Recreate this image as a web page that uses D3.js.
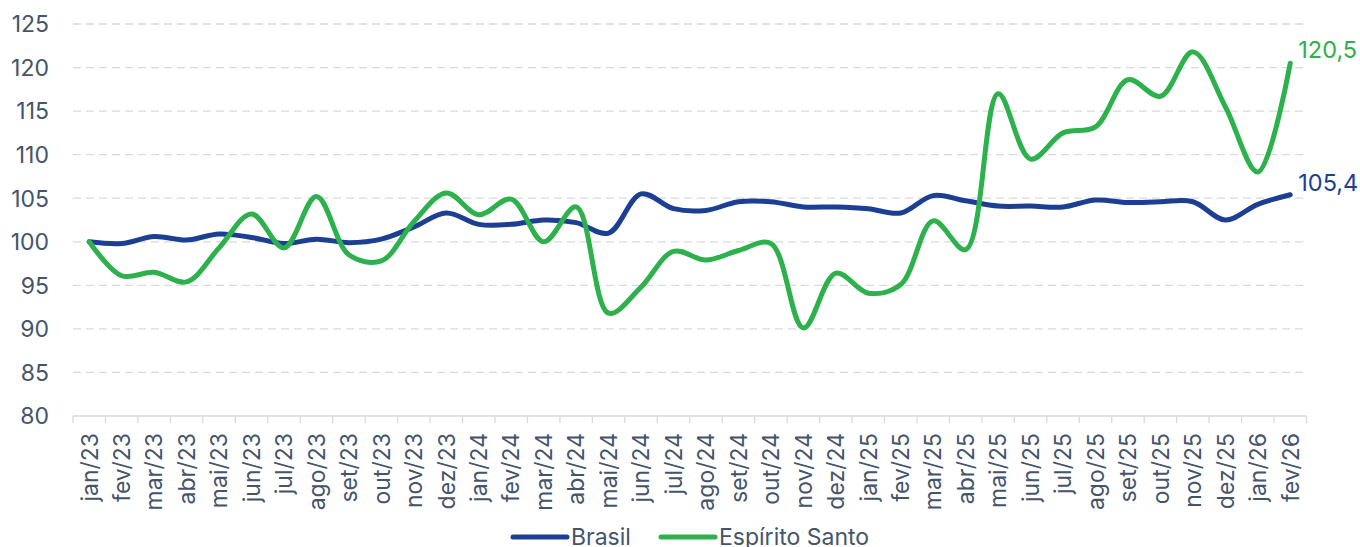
<!DOCTYPE html>
<html><head><meta charset="utf-8">
<script src="https://cdn.jsdelivr.net/npm/d3@7"></script>
<style>html,body{margin:0;padding:0;background:#fff}svg{display:block}</style>
</head><body>
<svg id="chart" width="1360" height="547"></svg>
<script>
const categories = ["jan/23","fev/23","mar/23","abr/23","mai/23","jun/23","jul/23","ago/23","set/23","out/23","nov/23","dez/23",
"jan/24","fev/24","mar/24","abr/24","mai/24","jun/24","jul/24","ago/24","set/24","out/24","nov/24","dez/24",
"jan/25","fev/25","mar/25","abr/25","mai/25","jun/25","jul/25","ago/25","set/25","out/25","nov/25","dez/25",
"jan/26","fev/26"];
const brasil = [100,99.8,100.6,100.2,100.9,100.5,99.8,100.3,99.9,100.3,101.7,103.3,
102.0,102.0,102.5,102.2,101.0,105.5,103.8,103.6,104.6,104.6,104.0,104.0,
103.8,103.3,105.3,104.7,104.1,104.1,104.0,104.8,104.5,104.6,104.6,102.5,
104.3,105.4];
const espiritoSanto = [100,96.1,96.5,95.4,99.3,103.2,99.3,105.2,98.5,97.8,102.3,105.6,
103.1,104.9,100.0,104.0,91.8,94.8,98.9,97.9,99.0,99.8,90.1,96.4,
94.1,95.1,102.4,99.1,117.0,109.5,112.5,113.2,118.6,116.7,121.8,115.5,
108.0,120.5];
const yTicks = [80,85,90,95,100,105,110,115,120,125];
const seriesNames = ["Brasil","Espírito Santo"];
const colors = ["#1d3f93","#2db14c"];
const endLabels = ["105,4","120,5"];

(function(){
const svg = d3.select("#chart");
const mLeft = 73, mRight = 1306.5, mTop = 24, mBottom = 416;
const textColor = "#44546a";

const x = d3.scaleBand().domain(categories).range([mLeft, mRight]).paddingInner(0).paddingOuter(0);
const y = d3.scaleLinear().domain([80,125]).range([mBottom, mTop]);

svg.append("g").selectAll("line").data(yTicks.filter(d => d !== 80)).join("line")
  .attr("x1", mLeft).attr("x2", mRight)
  .attr("y1", d => y(d)).attr("y2", d => y(d))
  .attr("stroke", "#d9d9d9").attr("stroke-width", 1.3).attr("stroke-dasharray", "8,5");

svg.append("g").selectAll("text").data(yTicks).join("text")
  .attr("x", 49).attr("y", d => y(d)).attr("dy", "0.36em")
  .attr("text-anchor", "end").attr("fill", textColor)
  .attr("font-family", "Inter").attr("font-size", 23)
  .text(d => d);

svg.append("line").attr("x1", mLeft).attr("x2", mRight).attr("y1", mBottom).attr("y2", mBottom)
  .attr("stroke", "#d9d9d9").attr("stroke-width", 1.3);
const boundaries = categories.map(c => x(c)).concat([mRight]);
svg.append("g").selectAll("line").data(boundaries).join("line")
  .attr("x1", d => d).attr("x2", d => d).attr("y1", mBottom).attr("y2", mBottom + 7)
  .attr("stroke", "#d9d9d9").attr("stroke-width", 1.3);

svg.append("g").selectAll("text").data(categories).join("text")
  .attr("transform", d => `translate(${x(d) + x.bandwidth()/2},${mBottom + 17}) rotate(-90)`)
  .attr("dy", "0.36em").attr("text-anchor", "end").attr("fill", textColor)
  .attr("font-family", "Inter").attr("font-size", 23)
  .text(d => d);

const line = d3.line()
  .x((d, i) => x(categories[i]) + x.bandwidth()/2)
  .y(d => y(d))
  .curve(d3.curveCatmullRom.alpha(0.5));
[brasil, espiritoSanto].forEach((s, k) => {
  svg.append("path").datum(s).attr("d", line)
    .attr("fill", "none").attr("stroke", colors[k]).attr("stroke-width", 5)
    .attr("stroke-linecap", "round").attr("stroke-linejoin", "round");
});

[brasil, espiritoSanto].forEach((s, k) => {
  const last = categories[categories.length - 1];
  svg.append("text")
    .attr("x", x(last) + x.bandwidth()/2 + 8)
    .attr("y", y(s[s.length - 1]) - (k === 0 ? 4 : 5))
    .attr("fill", colors[k]).attr("font-family", "Inter").attr("font-size", 23.5)
    .text(endLabels[k]);
});

const legendY = 537;
const lg = svg.append("g");
const legendItems = [{x0: 513, name: seriesNames[0], c: colors[0]}, {x0: 661, name: seriesNames[1], c: colors[1]}];
legendItems.forEach(it => {
  lg.append("line").attr("x1", it.x0).attr("x2", it.x0 + 54).attr("y1", legendY).attr("y2", legendY)
    .attr("stroke", it.c).attr("stroke-width", 5).attr("stroke-linecap", "round");
  lg.append("text").attr("x", it.x0 + 58).attr("y", legendY).attr("dy", "0.36em")
    .attr("fill", textColor).attr("font-family", "Inter").attr("font-size", 23)
    .text(it.name);
});
})();
</script>
</body></html>
